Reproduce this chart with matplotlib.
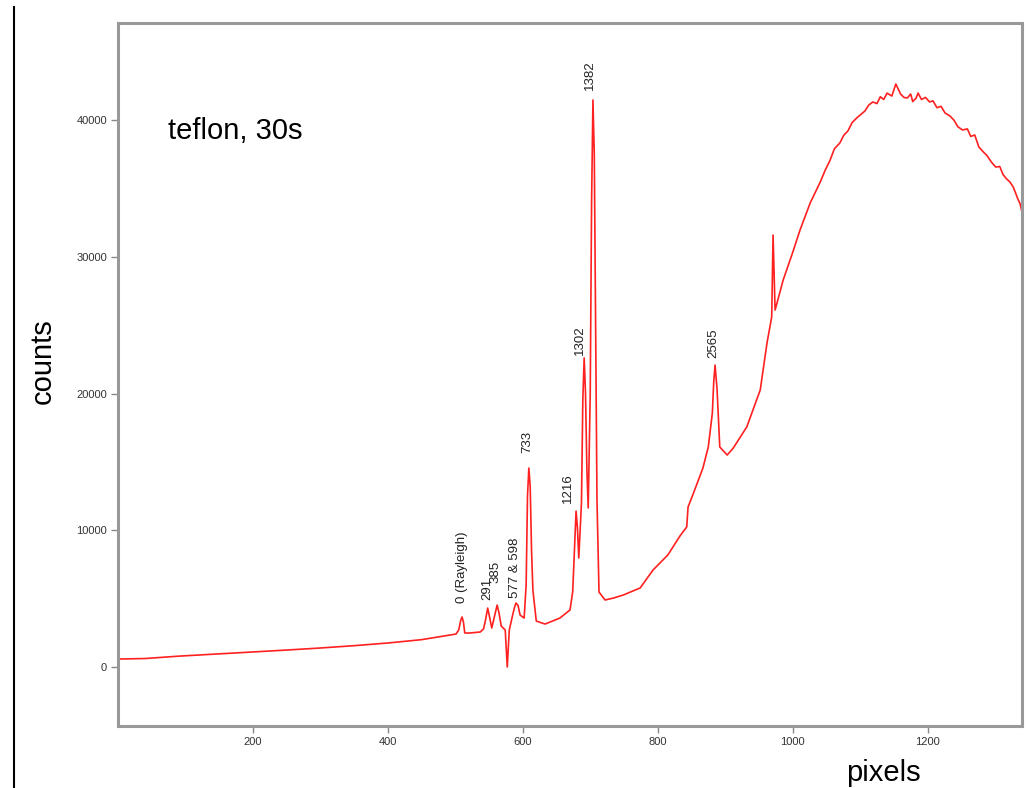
import matplotlib
matplotlib.use("Agg")
import matplotlib.pyplot as plt
from matplotlib.lines import Line2D

plt.rcParams['font.family'] = ['Liberation Sans', 'DejaVu Sans']

# spectrum (pixel index, counts), in four segments
pix_a = [3, 40, 92, 140, 200, 250, 300, 350, 400, 450, 492, 501, 505, 508, 510,
         512, 514, 520, 537, 542, 545, 548, 551, 554, 558, 562, 565, 568, 574, 577,
         580, 585, 588, 590, 593, 596, 602]
counts_a = [585, 620, 800, 930, 1100, 1240, 1390, 1560, 1755, 2000, 2340, 2410, 2700, 3400, 3660,
            3300, 2490, 2480, 2560, 2800, 3500, 4310, 3600, 2850, 3700, 4530, 3900, 3000, 2700, 0,
            2700, 3800, 4400, 4680, 4500, 3800, 3580]

pix_b = [605, 607, 609, 611, 613, 615, 620, 633, 655, 670, 674, 677, 679, 681, 683,
         687, 689, 691, 693, 695, 697, 700, 702, 704, 706, 708, 710, 713, 722, 735, 749]
counts_b = [6000, 12500, 14550, 13200, 8500, 5630, 3360, 3140, 3580, 4170, 5500, 9000, 11400, 10200, 7970,
            12000, 19500, 22600, 20000, 14500, 11630, 20000, 34000, 41460, 37500, 25000, 12200, 5480, 4900, 5050, 5265]

pix_c = [774, 793, 815, 833, 843, 845, 852, 867, 875, 881, 883, 885, 888, 892, 903, 912, 932,
         952, 962, 969, 971, 974, 986, 1000, 1011, 1026, 1041]
counts_c = [5780, 7090, 8190, 9580, 10240, 11700, 12580, 14550, 16090, 18570, 20800, 22080, 20300, 16090, 15500, 16010, 17550,
            20260, 23690, 25600, 31590, 26100, 28300, 30300, 31960, 33930, 35470]

pix_d = [1048, 1055, 1062, 1070, 1076, 1082, 1088, 1095, 1101, 1107,
         1113, 1119, 1125, 1130, 1135, 1140, 1147, 1153, 1160, 1165,
         1170, 1175, 1178, 1183, 1186, 1191, 1197, 1203, 1208, 1214,
         1220, 1226, 1233, 1239, 1245, 1252, 1259, 1264, 1270, 1276,
         1282, 1288, 1295, 1301, 1307, 1312, 1317, 1322, 1327, 1331,
         1334, 1337, 1340]
counts_d = [36300, 37000, 37900, 38320, 38900, 39200, 39800, 40150, 40400, 40650,
            41100, 41320, 41200, 41700, 41500, 41970, 41750, 42630, 41900, 41650,
            41610, 41900, 41350, 41600, 41970, 41500, 41650, 41320, 41400, 40900,
            41000, 40510, 40300, 40000, 39500, 39270, 39350, 38800, 38900, 38030,
            37700, 37400, 36900, 36560, 36600, 36000, 35700, 35470, 35100, 34600,
            34200, 33900, 33270]

pix = pix_a + pix_b + pix_c + pix_d
counts = counts_a + counts_b + counts_c + counts_d

peak_labels = ["0 (Rayleigh)", "291", "385", "577 & 598", "733", "1216", "1302", "1382", "2565"]
peak_x = [510, 547, 559, 588, 606, 667, 685, 700, 883]
peak_y = [4680, 4900, 6140, 5050, 15650, 11990, 22820, 42190, 22600]

xticks = [200, 400, 600, 800, 1000, 1200]
yticks = [0, 10000, 20000, 30000, 40000]

fig = plt.figure(figsize=(10.26, 7.88), dpi=100)
ax = fig.add_axes([118/1026, 1 - 726/788, (1022-118)/1026, (726-23)/788])

ax.plot(pix, counts, color='#ff2020', lw=1.2)

ax.set_xlim(0, 1340)
ax.set_ylim(-4314, 47093)
ax.set_xticks(xticks)
ax.set_yticks(yticks)
ax.tick_params(direction='out', length=5, width=1, color='#888888',
               labelsize=8, labelcolor='#333333', pad=3)
for s in ax.spines.values():
    s.set_color('#999999')
    s.set_linewidth(2.2)

for lab, x, y in zip(peak_labels, peak_x, peak_y):
    ax.text(x, y, lab, rotation=90, ha='center', va='bottom', fontsize=9.5,
            color='#222222')

ax.text(0.055, 0.846, "teflon, 30s", transform=ax.transAxes, fontsize=21,
        ha='left', va='center', color='black')

fig.text(43/1026, 1 - 361/788, "counts", rotation=90, ha='center', va='center',
         fontsize=21)
fig.text(883/1026, 1 - 773/788, "pixels", ha='center', va='center', fontsize=21)

fig.add_artist(Line2D([14/1026, 14/1026], [0, 1 - 7/788], transform=fig.transFigure,
                      color='black', lw=1.5))

fig.savefig("out.png", dpi=100)
